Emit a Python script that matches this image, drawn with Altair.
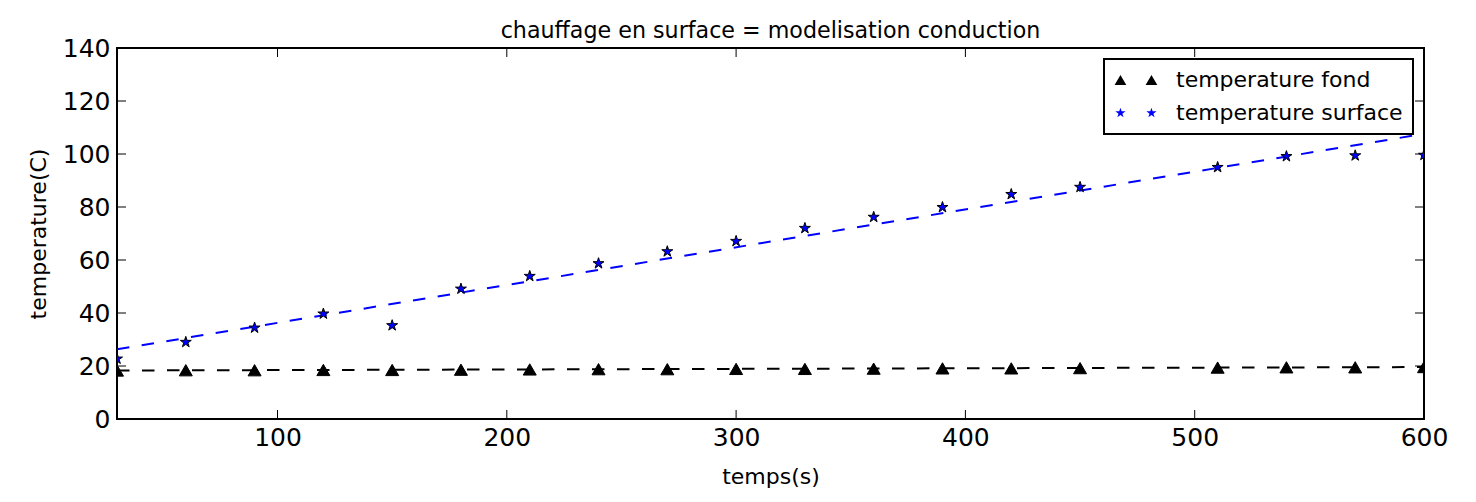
import math
import altair as alt
import pandas as pd

# ---- data ----
temps = [30, 60, 90, 120, 150, 180, 210, 240, 270, 300, 330, 360, 390, 420, 450, 510, 540, 570, 600]
temp_fond = [18.3, 18.4, 18.4, 18.5, 18.5, 18.6, 18.7, 18.8, 18.8, 18.9, 18.9, 19.0, 19.1, 19.1, 19.2, 19.4, 19.5, 19.5, 19.6]
temp_surface = [22.7, 29.0, 34.4, 39.7, 35.3, 49.1, 53.9, 58.7, 63.2, 67.1, 72.0, 76.2, 79.9, 84.8, 87.5, 95.0, 99.1, 99.4, 99.6]
model_t = [30, 600]
model_fond = [18.3, 19.6]
model_surface = [26.3, 107.6]
x_ticks = [100, 200, 300, 400, 500, 600]
y_ticks = [0, 20, 40, 60, 80, 100, 120, 140]
series_names = ["temperature fond", "temperature surface"]

W, H = 1307, 371
FONT = "DejaVu Sans"
BLUE = "#0000ff"


def star_path(cx, R, ratio=0.381966):
    pts = []
    for k in range(10):
        a = math.radians(-90 + 36 * k)
        rad = R if k % 2 == 0 else R * ratio
        pts.append((cx + rad * math.cos(a), rad * math.sin(a)))
    return "M" + "L".join(f"{x:.3f},{y:.3f}" for x, y in pts) + "Z"


def tri_path(cx, s=1.0):
    return f"M{cx-s:.3f},{0.866*s:.3f}L{cx:.3f},{-0.866*s:.3f}L{cx+s:.3f},{0.866*s:.3f}Z"


STEP = 4.77
SHIFT = -0.7
STAR1 = star_path(0, 1.0)
LEG_TRI = tri_path(SHIFT, 0.9) + tri_path(SHIFT + STEP, 0.9)
LEG_STAR = star_path(SHIFT, 0.82) + star_path(SHIFT + STEP, 0.82)

pts = pd.DataFrame({
    "t": temps * 2,
    "temp": temp_fond + temp_surface,
    "series": [series_names[0]] * len(temps) + [series_names[1]] * len(temps),
})
fond_df = pd.DataFrame({"t": temps, "temp": temp_fond})
surf_df = pd.DataFrame({"t": temps, "temp": temp_surface})
mfond_df = pd.DataFrame({"t": model_t, "temp": model_fond})
msurf_df = pd.DataFrame({"t": model_t, "temp": model_surface})
xt_df = pd.DataFrame({"t": x_ticks})
yt_df = pd.DataFrame({"temp": y_ticks})

xenc = alt.X("t:Q", title="temps(s)",
             scale=alt.Scale(domain=[30, 600], nice=False, zero=False),
             axis=alt.Axis(values=x_ticks, format="d", grid=False, ticks=False, tickSize=0,
                           domain=False, labelFontSize=25, labelPadding=6, labelFont=FONT,
                           labelFlush=False, labelOverlap=False,
                           titleFont=FONT, titleFontSize=22, titleFontWeight="normal",
                           titlePadding=16, labelColor="black", titleColor="black"))
yenc = alt.Y("temp:Q", title="temperature(C)",
             scale=alt.Scale(domain=[0, 140], nice=False),
             axis=alt.Axis(values=y_ticks, format="d", grid=False, ticks=False, tickSize=0,
                           domain=False, labelFontSize=25, labelPadding=7, labelFont=FONT,
                           labelFlush=False, labelOverlap=False,
                           titleFont=FONT, titleFontSize=22, titleFontWeight="normal",
                           titlePadding=12, labelColor="black", titleColor="black"))

line_fond = alt.Chart(mfond_df).mark_line(color="black", strokeWidth=2, strokeDash=[12.5, 12.5], clip=True).encode(x=xenc, y=yenc)
line_surf = alt.Chart(msurf_df).mark_line(color=BLUE, strokeWidth=2, strokeDash=[12.5, 12.5], clip=True).encode(x=xenc, y=yenc)

pt_fond = alt.Chart(fond_df).mark_point(shape="triangle-up", filled=True, fill="black", stroke="black",
                                         strokeWidth=1, size=169, opacity=1, clip=True).encode(x=xenc, y=yenc)
pt_surf = alt.Chart(surf_df).mark_point(shape=STAR1, filled=True, fill=BLUE, stroke="black",
                                         strokeWidth=1, size=134, opacity=1, clip=True).encode(x=xenc, y=yenc)

leg = alt.Legend(title=None, orient="top-right", offset=11, padding=10,
                 strokeColor="black", fillColor="white",
                 labelFont=FONT, labelFontSize=22, labelColor="black", labelLimit=500,
                 labelOffset=40, rowPadding=11, symbolSize=169,
                 symbolOpacity=1, symbolStrokeColor="black",
                 symbolStrokeWidth=1, cornerRadius=0)

legend_layer = alt.Chart(pts).mark_point(filled=True, opacity=0, stroke="black", strokeWidth=1, size=169).encode(
    x=xenc, y=yenc,
    color=alt.Color("series:N", scale=alt.Scale(domain=series_names, range=["black", BLUE]), legend=leg),
    shape=alt.Shape("series:N", scale=alt.Scale(domain=series_names, range=[LEG_TRI, LEG_STAR]), legend=leg),
)

tick_bottom = alt.Chart(xt_df).mark_rule(color="black", strokeWidth=1).encode(x=xenc, y=alt.value(H), y2=alt.value(H - 9))
tick_top = alt.Chart(xt_df).mark_rule(color="black", strokeWidth=1).encode(x=xenc, y=alt.value(0), y2=alt.value(9))
tick_left = alt.Chart(yt_df).mark_rule(color="black", strokeWidth=1).encode(y=yenc, x=alt.value(0), x2=alt.value(9))
tick_right = alt.Chart(yt_df).mark_rule(color="black", strokeWidth=1).encode(y=yenc, x=alt.value(W - 9), x2=alt.value(W))

base = alt.layer(
    tick_bottom, tick_top, tick_left, tick_right,
    line_fond, line_surf, pt_fond, pt_surf, legend_layer,
).properties(
    width=W, height=H,
    background="white",
    title=alt.TitleParams("chauffage en surface = modelisation conduction", font=FONT, fontSize=22.2,
                          fontWeight="normal", color="black", offset=12, dy=18, anchor="middle"),
    padding={"left": 109, "top": 40, "right": 44, "bottom": 75},
    autosize=alt.AutoSizeParams(type="none"),
)

chart = base.configure_view(stroke="black", strokeWidth=2)
try:
    candidate = base.configure_view(stroke="black", strokeWidth=2).configure_legend(strokeWidth=2)
    candidate.to_dict()
    chart = candidate
except Exception:
    pass

chart.save("out.html", embed_options={"renderer": "svg", "actions": False})
